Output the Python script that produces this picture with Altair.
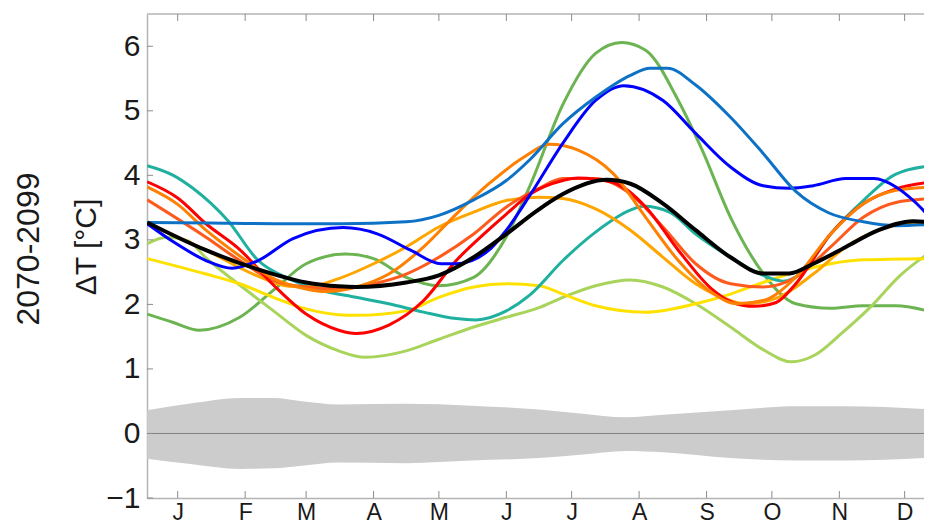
import altair as alt
import pandas as pd

# ---------------- data ----------------
month_days = [15, 46, 74, 105, 135, 166, 196, 227, 258, 288, 319, 349]
month_labels = ["J", "F", "M", "A", "M", "J", "J", "A", "S", "O", "N", "D"]
y_ticks = [-1, 0, 1, 2, 3, 4, 5, 6]

band_days = [1, 20, 44, 59, 72, 89, 120, 150, 181, 200, 221, 238, 269, 299, 322, 358]
band_upper = [0.36, 0.46, 0.55, 0.55, 0.50, 0.45, 0.46, 0.43, 0.37, 0.31, 0.25, 0.29, 0.36, 0.42, 0.42, 0.38]
band_lower = [-0.39, -0.47, -0.55, -0.54, -0.50, -0.45, -0.46, -0.42, -0.38, -0.33, -0.27, -0.29, -0.38, -0.42, -0.42, -0.38]

series_names = ["green", "lightgreen", "yellow", "teal", "amber", "orangered", "red", "orange", "blue", "steelblue"]
series_colors = ["#6cb452", "#a8d45c", "#ffe100", "#1fb0a0", "#ffa500", "#ff5a1e", "#ff0000", "#ff7f00", "#0000ff", "#0d72c6"]

green_days = [1, 13, 25, 43.5, 59, 74, 92, 105, 120, 135, 151, 166, 177, 192, 207, 219, 230, 245, 256, 269, 284, 299, 315, 330, 345, 362]
green_vals = [1.85, 1.72, 1.60, 1.80, 2.22, 2.63, 2.78, 2.71, 2.42, 2.29, 2.42, 3.05, 3.85, 5.10, 5.89, 6.06, 5.94, 5.16, 4.39, 3.35, 2.48, 2.01, 1.94, 1.98, 1.98, 1.88]

lightgreen_days = [1, 10, 20, 28, 43.5, 59, 74, 89, 101, 120, 135, 151, 166, 181, 192, 207, 223, 238, 253, 269, 284, 297, 308, 320, 333, 347, 362]
lightgreen_vals = [2.94, 3.04, 2.98, 2.72, 2.30, 1.90, 1.52, 1.28, 1.18, 1.28, 1.46, 1.65, 1.80, 1.95, 2.11, 2.29, 2.38, 2.27, 2.01, 1.65, 1.30, 1.11, 1.22, 1.55, 1.95, 2.45, 2.84]

yellow_days = [1, 28, 43.5, 59, 74, 89, 97, 120, 135, 151, 166, 181, 192, 207, 230, 253, 269, 284, 299, 315, 330, 362]
yellow_vals = [2.71, 2.47, 2.32, 2.11, 1.93, 1.84, 1.83, 1.90, 2.11, 2.27, 2.32, 2.29, 2.16, 1.98, 1.88, 2.01, 2.16, 2.34, 2.50, 2.63, 2.69, 2.71]

teal_days = [1, 13, 22, 38, 52, 66, 81, 97, 112, 128, 143, 152, 166, 177, 192, 207, 223, 229, 241, 253, 269, 284, 293, 302, 315, 330, 345, 362]
teal_vals = [4.15, 4.00, 3.80, 3.30, 2.68, 2.40, 2.22, 2.11, 2.01, 1.88, 1.78, 1.76, 1.90, 2.15, 2.68, 3.12, 3.46, 3.52, 3.43, 3.09, 2.73, 2.45, 2.36, 2.50, 3.09, 3.61, 4.02, 4.15]

amber_days = [1, 28, 51, 66, 74, 89, 105, 120, 135, 151, 166, 181, 192, 207, 223, 238, 253, 269, 276, 291, 307, 322, 337, 353, 362]
amber_vals = [3.25, 2.84, 2.45, 2.28, 2.27, 2.40, 2.63, 2.89, 3.20, 3.43, 3.61, 3.66, 3.64, 3.48, 3.15, 2.73, 2.32, 2.06, 2.01, 2.11, 2.47, 2.89, 3.15, 3.27, 3.27]

orangered_days = [1, 28, 43.5, 59, 74, 89, 105, 120, 135, 151, 166, 181, 192, 207, 223, 238, 253, 269, 284, 299, 315, 330, 345, 362]
orangered_vals = [3.62, 3.04, 2.68, 2.37, 2.27, 2.24, 2.32, 2.47, 2.73, 3.09, 3.51, 3.80, 3.95, 3.95, 3.71, 3.20, 2.63, 2.32, 2.27, 2.42, 2.89, 3.35, 3.58, 3.64]

red_days = [1, 15, 28, 43.5, 59, 74, 89, 97, 112, 128, 143, 156, 166, 177, 192, 199, 215, 230, 245, 261, 270, 280, 290, 299, 315, 330, 345, 362]
red_vals = [3.90, 3.65, 3.25, 2.85, 2.30, 1.85, 1.60, 1.55, 1.68, 2.06, 2.68, 3.10, 3.40, 3.71, 3.92, 3.96, 3.89, 3.51, 2.84, 2.22, 2.03, 1.97, 2.03, 2.32, 3.09, 3.56, 3.79, 3.90]

orange_days = [1, 15, 28, 43.5, 59, 74, 83, 97, 112, 128, 143, 158, 174, 186, 199, 215, 230, 245, 261, 272, 284, 299, 315, 330, 345, 362]
orange_vals = [3.82, 3.55, 3.15, 2.75, 2.40, 2.24, 2.20, 2.27, 2.47, 2.89, 3.40, 3.87, 4.28, 4.48, 4.39, 4.03, 3.35, 2.68, 2.17, 2.01, 2.06, 2.42, 3.09, 3.56, 3.77, 3.82]

blue_days = [1, 13, 28, 40, 52, 68, 91, 107, 122, 136, 143, 158, 166, 177, 192, 207, 220, 238, 253, 269, 284, 296, 307, 322, 335, 345, 353, 362]
blue_vals = [3.25, 2.97, 2.68, 2.56, 2.68, 3.02, 3.19, 3.09, 2.84, 2.63, 2.63, 2.84, 3.15, 3.70, 4.50, 5.16, 5.39, 5.16, 4.65, 4.13, 3.84, 3.80, 3.84, 3.95, 3.95, 3.82, 3.61, 3.30]

steelblue_days = [1, 30, 60, 90, 120, 135, 151, 166, 177, 192, 207, 223, 232, 240, 253, 269, 284, 299, 314, 330, 345, 362]
steelblue_vals = [3.27, 3.26, 3.25, 3.25, 3.28, 3.38, 3.62, 3.92, 4.25, 4.80, 5.21, 5.55, 5.66, 5.66, 5.40, 4.90, 4.34, 3.75, 3.42, 3.28, 3.22, 3.24]

mean_days = [1, 28, 59, 74, 89, 97, 120, 135, 151, 166, 180, 192, 212, 223, 238, 253, 269, 284, 296, 307, 322, 337, 353, 362]
mean_vals = [3.27, 2.84, 2.47, 2.34, 2.28, 2.27, 2.34, 2.45, 2.73, 3.09, 3.45, 3.71, 3.93, 3.87, 3.56, 3.15, 2.73, 2.48, 2.48, 2.63, 2.89, 3.15, 3.29, 3.27]

# --------------- tables ---------------
series_data = {
    "green": (green_days, green_vals),
    "lightgreen": (lightgreen_days, lightgreen_vals),
    "yellow": (yellow_days, yellow_vals),
    "teal": (teal_days, teal_vals),
    "amber": (amber_days, amber_vals),
    "orangered": (orangered_days, orangered_vals),
    "red": (red_days, red_vals),
    "orange": (orange_days, orange_vals),
    "blue": (blue_days, blue_vals),
    "steelblue": (steelblue_days, steelblue_vals),
}
rows = []
for name in series_names:
    d, v = series_data[name]
    for dd, vv in zip(d, v):
        rows.append({"series": name, "day": dd, "value": vv})
lines_df = pd.DataFrame(rows)
mean_df = pd.DataFrame({"day": mean_days, "value": mean_vals})
band_df = pd.DataFrame({"day": band_days, "upper": band_upper, "lower": band_lower})
mticks_df = pd.DataFrame({"day": month_days, "label": month_labels})
yticks_df = pd.DataFrame({"v": y_ticks})

W, H = 777, 484
FONT = "Liberation Sans"
FRAME = "#b4b4b4"
TICK = "#8c8c8c"

xscale = alt.Scale(domain=[0.9, 357.9], nice=False, zero=False)
yscale = alt.Scale(domain=[-1, 6.5], nice=False, zero=False)

label_expr = ("[" + ",".join("'" + l + "'" for l in month_labels) + "][indexof(["
              + ",".join(str(d) for d in month_days) + "], datum.value)]")

xaxis = alt.Axis(values=month_days, labelExpr=label_expr, title=None, grid=False,
                 tickSize=0, labelFontSize=23, labelPadding=3, labelFont=FONT,
                 labelColor="#1a1a1a", domainColor=FRAME, domainWidth=1.5)
yaxis = alt.Axis(values=y_ticks, format="d", title=None, grid=False, tickSize=0,
                 labelFontSize=30, labelPadding=7, labelFont=FONT, labelColor="#1a1a1a",
                 domainColor=FRAME, domainWidth=1.5)

band = alt.Chart(band_df).mark_area(color="#cccccc", interpolate="monotone", clip=True).encode(
    x=alt.X("day:Q", scale=xscale, axis=xaxis),
    y=alt.Y("upper:Q", scale=yscale, axis=yaxis),
    y2="lower:Q",
)

zero = alt.Chart(pd.DataFrame({"z": [0]})).mark_rule(color="#808080", strokeWidth=1).encode(
    y=alt.Y("z:Q", scale=yscale), x=alt.value(0), x2=alt.value(W)
)

lines = alt.Chart(lines_df).mark_line(strokeWidth=3, interpolate="monotone", clip=True).encode(
    x=alt.X("day:Q", scale=xscale),
    y=alt.Y("value:Q", scale=yscale),
    color=alt.Color("series:N", scale=alt.Scale(domain=series_names, range=series_colors), legend=None),
    order=alt.Order("day:Q"),
)

mean_line = alt.Chart(mean_df).mark_line(strokeWidth=4, color="#000000", interpolate="monotone", clip=True).encode(
    x=alt.X("day:Q", scale=xscale),
    y=alt.Y("value:Q", scale=yscale),
)

top_frame = alt.Chart(pd.DataFrame({"a": [0]})).mark_rule(color=FRAME, strokeWidth=1.5).encode(
    y=alt.value(0), x=alt.value(0), x2=alt.value(W)
)

bottom_ticks = alt.Chart(mticks_df).mark_rule(color=TICK, strokeWidth=1).encode(
    x=alt.X("day:Q", scale=xscale), y=alt.value(H), y2=alt.value(H - 7)
)
top_ticks = alt.Chart(mticks_df).mark_rule(color=TICK, strokeWidth=1).encode(
    x=alt.X("day:Q", scale=xscale), y=alt.value(0), y2=alt.value(7)
)
left_ticks = alt.Chart(yticks_df).mark_rule(color=TICK, strokeWidth=1).encode(
    y=alt.Y("v:Q", scale=yscale), x=alt.value(0), x2=alt.value(6)
)

title1 = alt.Chart(pd.DataFrame({"t": ["2070-2099"]})).mark_text(
    angle=270, fontSize=32, font=FONT, color="#1a1a1a", align="center", baseline="middle"
).encode(text="t:N", x=alt.value(-118), y=alt.value(235))

title2 = alt.Chart(pd.DataFrame({"t": ["ΔT [°C]"]})).mark_text(
    angle=270, fontSize=30, font=FONT, color="#1a1a1a", align="center", baseline="middle"
).encode(text="t:N", x=alt.value(-60), y=alt.value(233))

chart = alt.layer(
    band, zero, lines, mean_line, top_frame, bottom_ticks, top_ticks, left_ticks, title1, title2
).properties(
    width=W, height=H,
    background="white",
    view=alt.ViewBackground(strokeWidth=0, strokeOpacity=0),
    autosize=alt.AutoSizeParams(type="none"),
    padding={"left": 139, "top": 6, "right": 0, "bottom": 26},
).configure_view(stroke="transparent", strokeWidth=0, strokeOpacity=0)

chart.save("out.html", embed_options={"renderer": "svg", "actions": False})
